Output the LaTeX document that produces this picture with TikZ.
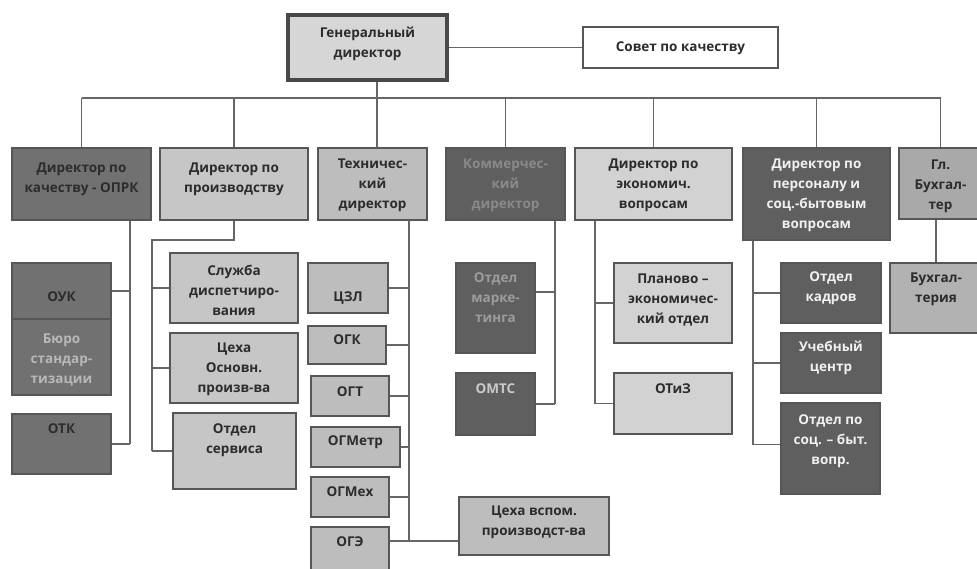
\documentclass[tikz,border=0pt]{standalone}
\usepackage{fontspec}
\setmainfont{Open Sans}

% palette
\definecolor{edge}{HTML}{565656}
\definecolor{wire}{HTML}{666666}
\definecolor{fGen}{HTML}{D6D6D6}
\definecolor{fLight}{HTML}{C6C6C6}
\definecolor{fTech}{HTML}{BDBDBD}
\definecolor{fEcon}{HTML}{D2D2D2}
\definecolor{fMid}{HTML}{A9A9A9}
\definecolor{fBuh}{HTML}{B2B2B2}
\definecolor{fDarkA}{HTML}{717171}
\definecolor{fDarkB}{HTML}{5F5F5F}
\definecolor{tInk}{HTML}{2C2C2C}
\definecolor{tGhost}{HTML}{8A8A8A}
\definecolor{tPale}{HTML}{B8B8B8}
\definecolor{tMk}{HTML}{9C9C9C}
\definecolor{tOmts}{HTML}{CACACA}
\definecolor{tWhite}{HTML}{F0F0F0}

\tikzset{
  unit/.style={rectangle, draw=edge, line width=1.4pt, inner sep=0pt, fill=#1},
  txt/.style={font=\bfseries\fontsize{13.5}{20}\selectfont, align=center,
              inner sep=0pt, text=#1},
  conn/.style={draw=wire, line width=1.4pt},
}

% box from (x1,y1) to (x2,y2) with its caption centred at height ty
% #1 name, #2 x1, #3 y1, #4 x2, #5 y2, #6 box style, #7 text colour, #8 ty, #9 caption
\newcommand\orgbox[9]{%
  \node[#6, minimum width={(#4-#2)*1pt}, minimum height={(#5-#3)*1pt}]
    (#1) at ({(#2+#4)/2},{(#3+#5)/2}) {};
  \node[txt=#7] (#1-t) at ({(#2+#4)/2},#8) {#9};
}

\begin{document}
\begin{tikzpicture}[x=1pt, y=-1pt]
\useasboundingbox (0,0) rectangle (977,569);

% top level
\orgbox{gd}{288}{15}{447}{80}{unit=fGen, line width=3.4pt, draw=edge!85!black}{tInk}{44}{Генеральный\\директор}
\orgbox{sov}{583}{27}{778}{68}{unit=white}{tInk}{48}{Совет по качеству}

% directors
\orgbox{dq}{12}{148}{151}{220}{unit=fDarkA}{tInk}{179}{Директор по\\качеству - ОПРК}
\orgbox{dp}{160}{148}{308}{220}{unit=fLight}{tInk}{179}{Директор по\\производству}
\orgbox{tech}{318}{148}{427}{220}{unit=fTech}{tInk}{185}{Техничес-\\кий\\директор}
\orgbox{com}{446}{148}{565}{220}{unit=fDarkB}{tGhost}{185}{Коммерчес-\\кий\\директор}
\orgbox{ec}{575}{148}{732}{220}{unit=fEcon}{tInk}{185}{Директор по\\экономич.\\вопросам}
\orgbox{pers}{743}{148}{890}{240}{unit=fDarkB}{tWhite}{195}{Директор по\\персоналу и\\соц.-бытовым\\вопросам}
\orgbox{bh}{899}{148}{982}{219}{unit=fMid}{tInk}{186}{Гл.\\Бухгал-\\тер}

% quality
\orgbox{usk}{12}{263}{111}{319}{unit=fDarkA}{tInk}{297}{ОУК}
\orgbox{buro}{12}{319}{111}{395}{unit=fDarkA}{tPale}{360}{Бюро\\стандар-\\тизации}
\orgbox{otk}{12}{414}{111}{474}{unit=fDarkA}{tInk}{429}{ОТК}

% production
\orgbox{sd}{170}{253}{298}{323}{unit=fLight}{tInk}{290}{Служба\\диспетчиро-\\вания}
\orgbox{cex}{170}{333}{298}{403}{unit=fLight}{tInk}{369}{Цеха\\Основн.\\произв-ва}
\orgbox{serv}{173}{413}{296}{489}{unit=fLight}{tInk}{440}{Отдел\\сервиса}

% technical
\orgbox{czl}{308}{263}{388}{313}{unit=fTech}{tInk}{298}{ЦЗЛ}
\orgbox{ogk}{308}{326}{386}{364}{unit=fTech}{tInk}{340}{ОГК}
\orgbox{ogt}{311}{376}{389}{416}{unit=fTech}{tInk}{392}{ОГТ}
\orgbox{ogmetr}{311}{427}{400}{467}{unit=fTech}{tInk}{442}{ОГМетр}
\orgbox{ogmex}{311}{477}{389}{517}{unit=fTech}{tInk}{492}{ОГМех}
\orgbox{oge}{311}{527}{389}{580}{unit=fTech}{tInk}{542}{ОГЭ}
\orgbox{cv}{459}{497}{609}{555}{unit=fTech}{tInk}{522}{Цеха вспом.\\производст-ва}

% commercial
\orgbox{mk}{456}{263}{535}{353}{unit=fDarkB}{tMk}{298}{Отдел\\марке-\\тинга}
\orgbox{omts}{456}{373}{535}{435}{unit=fDarkB}{tOmts}{389}{ОМТС}

% economics
\orgbox{plan}{614}{263}{732}{343}{unit=fEcon}{tInk}{300}{Планово –\\экономичес-\\кий отдел}
\orgbox{otiz}{614}{373}{732}{434}{unit=fEcon}{tInk}{389}{ОТиЗ}

% personnel
\orgbox{kadr}{781}{263}{881}{323}{unit=fDarkB}{tWhite}{288}{Отдел\\кадров}
\orgbox{uch}{781}{333}{881}{393}{unit=fDarkB}{tWhite}{358}{Учебный\\центр}
\orgbox{soc}{781}{403}{880}{494}{unit=fDarkB}{tWhite}{441}{Отдел по\\соц. – быт.\\вопр.}

% accounting
\orgbox{buh}{890}{263}{982}{333}{unit=fBuh}{tInk}{289}{Бухгал-\\терия}

% ---- connectors ----
\coordinate (bus) at (0,98);
\coordinate (xgd) at (377,0);
\coordinate (xq) at (130,0);
\coordinate (pj) at (152,240);
\coordinate (xt) at (409,0);
\coordinate (gj) at (409,541);
\coordinate (xc) at (555,0);
\coordinate (xe) at (595,0);
\coordinate (xp) at (753,0);

\draw[conn] (gd.east) -- (sov.west);
\draw[conn] (gd.south -| xgd) -- (bus -| xgd);
\draw[conn] (bus -| dq.north) -- (bus -| bh.north);
\foreach \n in {dq,dp,com,ec,pers,bh}
  \draw[conn] (bus -| \n.north) -- (\n.north);
\draw[conn] (bus -| xgd) -- (tech.north -| xgd);

% quality branch
\draw[conn] (dq.south -| xq) -- (otk.east -| xq);
\draw[conn] (usk.east) -- (usk.east -| xq);
\draw[conn] (otk.east) -- (otk.east -| xq);

% production branch
\draw[conn] (dp.south) |- (pj) -- (pj |- serv.west);
\foreach \n in {sd,cex,serv}
  \draw[conn] (\n.west) -- (\n.west -| pj);

% technical branch
\draw[conn] (tech.south -| xt) -- (gj);
\foreach \n in {czl,ogk,ogt,ogmetr,ogmex}
  \draw[conn] (\n.east) -- (\n.east -| xt);
\draw[conn] (oge.east |- gj) -- (gj -| cv.west);

% commercial branch
\draw[conn] (com.south -| xc) -- (omts.east -| xc);
\draw[conn] ([yshift=16pt]mk.east) -- ([yshift=16pt]mk.east -| xc);
\draw[conn] (omts.east) -- (omts.east -| xc);

% economics branch
\draw[conn] (ec.south -| xe) -- (otiz.west -| xe);
\foreach \n in {plan,otiz}
  \draw[conn] (\n.west) -- (\n.west -| xe);

% personnel branch
\draw[conn] ([yshift=4pt]soc.west -| xp) -- (pers.south -| xp);
\foreach \n in {kadr,uch}
  \draw[conn] (\n.west) -- (\n.west -| xp);
\draw[conn] ([yshift=4pt]soc.west) -- ([yshift=4pt]soc.west -| xp);

% accounting branch
\draw[conn] (bh.south -| buh.north) -- (buh.north);
\end{tikzpicture}
\end{document}
